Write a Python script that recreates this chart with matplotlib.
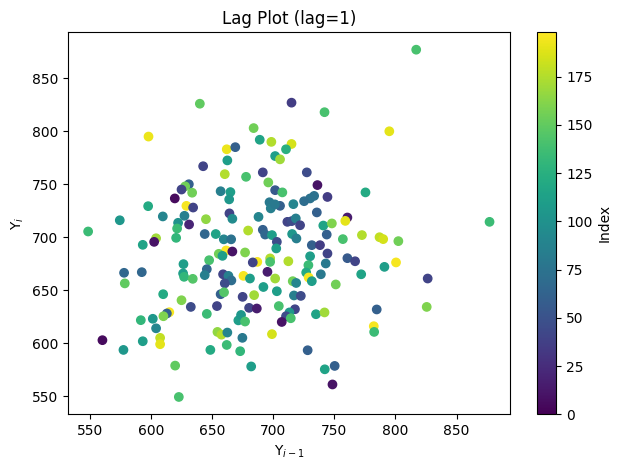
import numpy as np
import matplotlib.pyplot as plt

# lag plot points: (Y_{i-1}, Y_i) and the index colour
y_prev = [640, 598, 662, 669, 662.5, 715, 742, 795, 684, 689,
          698.5, 715, 710.5, 701.6, 705.6, 817, 642.7, 660.4, 631, 628,
          625, 633.7, 657, 665, 664, 619.5, 629, 634.5, 597.7, 574.5,
          609.7, 627.4, 622.2, 631.2, 645, 664.2, 666.6, 621.4, 548.6, 644,
          653, 659.6, 665.6, 620.6, 604.2, 602.6, 593.3, 661.5, 666.6, 655.5,
          658.5, 647.6, 626.6, 645.7, 644, 626.3, 627.1, 634.2, 578, 592.5,
          659, 663.4, 665.8, 578.6, 660.4, 610, 625, 632.6, 657, 659.8,
          654, 615, 613, 610.2, 645.7, 591.7, 601.5, 604.2, 671.5, 654.4,
          657.7, 662.5, 560.3, 593.3, 577.5, 607.5, 607.5, 648.6, 662, 673,
          619.8, 622.8, 751.2, 692, 675, 684.4, 703, 717, 722.6, 704.6,
          680.3, 686.6, 673.7, 677, 717.8, 713.3, 710.5, 714.4, 707, 735,
          742, 699, 674.8, 682, 728.2, 742.2, 750.3, 748.5, 784.7, 782.3,
          782.6, 826.4, 825.6, 877, 802.4, 800.5, 691.5, 727.5, 677.8, 696,
          736.2, 701.6, 707.5, 744.4, 775.5, 733.5, 730.2, 725.3, 697, 698,
          705.6, 716.5, 688, 735.7, 760.7, 759, 711.6, 715.2, 718.5, 722,
          741, 748, 679.5, 691.5, 693.4, 699, 715.5, 743.8, 757, 772.6,
          787, 790, 719, 703, 702.5, 731.6, 738.3, 677, 744.4, 730.2,
          687, 697.5, 697.5, 683.3, 712.4, 760.7, 767, 743, 728.8, 791,
          695.3, 727, 739, 772, 675.7, 681, 701.6, 729, 716, 731.6,
          701.4, 718.8]
y_curr = [826, 795, 783, 785, 772.5, 827, 818, 800, 803, 792,
          790, 788, 783, 776.6, 773.5, 877, 767, 759.5, 750, 748,
          745, 742, 743.4, 742.6, 735.7, 736.6, 729.6, 728, 729.3, 716,
          719.6, 720.2, 713.6, 712, 717, 722.5, 717.4, 708.2, 705.4, 703,
          703, 698, 698, 699.4, 699, 695.6, 692.8, 687.5, 686.5, 684.3,
          682.4, 678.3, 674.6, 669.8, 664.2, 665.8, 662.6, 660.7, 666.4, 667,
          665, 663.5, 659.2, 656.4, 656.4, 646.2, 640.5, 634.2, 646.2, 648,
          635, 629.2, 628, 625.4, 627.6, 621.7, 623, 614, 621.5, 610.6,
          608, 610, 602.8, 601.8, 593.6, 605, 599, 593.6, 598.3, 592.4,
          578.8, 549.2, 655.4, 653, 643.7, 645.3, 649, 645, 644.6, 635,
          633.3, 632.7, 626.6, 620.4, 632, 629, 625.4, 623.5, 620, 627.3,
          629, 608.5, 605, 578, 593.3, 575.3, 578.5, 561, 631.8, 616,
          610.6, 661, 634.2, 714.5, 696.3, 676.2, 761.2, 761.2, 757, 751.7,
          749.2, 744.4, 742.3, 738, 742.3, 739, 736.6, 734, 733, 727.2,
          729.6, 731.2, 719.2, 723.4, 718.6, 715.4, 714.5, 715.2, 717.7, 711.3,
          711, 713, 706.3, 707, 702.5, 702, 703, 702.5, 698.2, 702,
          700, 698.2, 698.8, 695.6, 689.4, 692.5, 692.5, 685.6, 684.6, 682,
          676.7, 680, 676.7, 676.2, 677.3, 680.2, 677.3, 675.2, 673.6, 672,
          667.3, 666.7, 665, 665, 663.5, 661, 661, 662, 658.5, 658.5,
          731, 656.8]
index = [150, 192, 192, 60, 110, 35, 140, 190, 155, 115,
         175, 185, 125, 110, 170, 140, 40, 175, 60, 155,
         40, 155, 85, 110, 105, 5, 195, 40, 120, 105,
         90, 85, 100, 20, 165, 40, 95, 135, 135, 65,
         115, 90, 75, 130, 170, 10, 115, 198, 10, 155,
         110, 140, 110, 65, 85, 110, 130, 145, 65, 65,
         40, 85, 70, 150, 45, 120, 160, 45, 60, 145,
         40, 195, 60, 160, 135, 130, 105, 90, 110, 165,
         175, 90, 5, 110, 105, 180, 190, 120, 135, 130,
         150, 140, 155, 110, 40, 170, 110, 85, 45, 140,
         40, 15, 105, 140, 40, 105, 45, 140, 10, 115,
         170, 185, 80, 110, 60, 115, 60, 10, 60, 195,
         135, 40, 160, 135, 155, 195, 40, 45, 140, 155,
         10, 55, 140, 35, 120, 75, 75, 70, 80, 85,
         60, 90, 90, 60, 15, 190, 40, 45, 85, 40,
         115, 160, 175, 60, 65, 110, 105, 60, 140, 175,
         180, 185, 85, 45, 110, 60, 35, 160, 40, 110,
         195, 175, 140, 40, 175, 55, 40, 80, 135, 110,
         15, 120, 80, 115, 195, 110, 170, 195, 155, 110,
         80, 90]

fig, ax = plt.subplots()
sc = ax.scatter(y_prev, y_curr, c=index, cmap='viridis', vmin=0, vmax=198)
fig.colorbar(sc, ax=ax, label='Index')
ax.set_xlabel(r'Y$_{i-1}$')
ax.set_ylabel(r'Y$_i$')
ax.set_title('Lag Plot (lag=1)')
ax.set_xticks(np.arange(550, 851, 50))
ax.set_yticks(np.arange(550, 851, 50))
plt.tight_layout()
plt.savefig('out.png', dpi=100, bbox_inches='tight')
